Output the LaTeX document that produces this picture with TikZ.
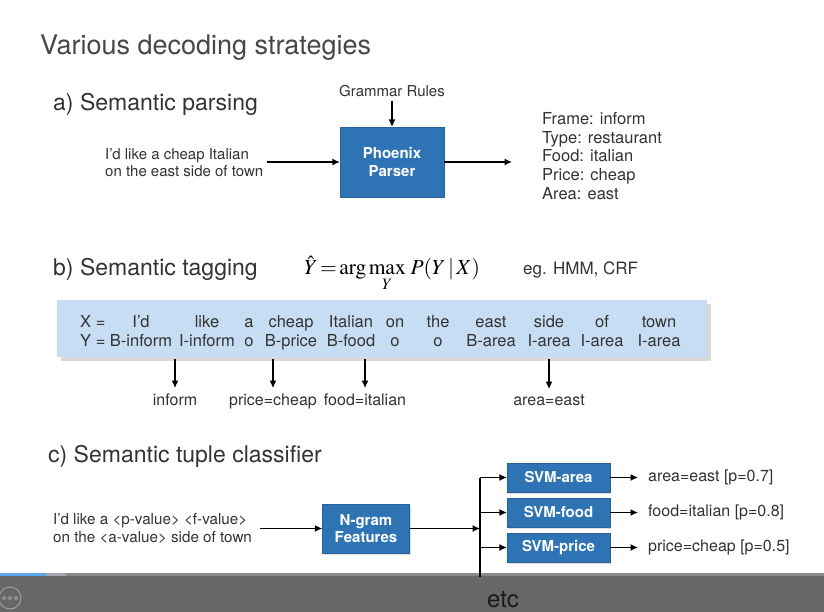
\documentclass[tikz,border=0pt]{standalone}
\usepackage{mathptmx}
\usepackage[no-math]{fontspec}
\setmainfont{TeX Gyre Heros}
\usetikzlibrary{arrows.meta,shadows}
\definecolor{boxblue}{HTML}{2E74B5}
\definecolor{bandblue}{HTML}{C7DDF3}
\definecolor{txt}{HTML}{333333}
\definecolor{barcol}{HTML}{676767}
\definecolor{progblue}{HTML}{5AA6EC}
\definecolor{proggray}{HTML}{A4A7B2}
\definecolor{trackgray}{HTML}{8A8A8A}
\begin{document}
\begin{tikzpicture}[x=1pt,y=-1pt,
  every node/.style={inner sep=0pt, text=txt},
  >={Latex[length=7.5pt,width=7pt]},
  conn/.style={draw=black, line width=1.3pt, ->},
  plainline/.style={draw=black, line width=1.3pt},
  bluebox/.style={fill=boxblue, text=white, font=\fontsize{15}{17.5}\selectfont\bfseries,
    align=center, draw=boxblue!85!black, line width=0.3pt,
    drop shadow={opacity=0.25, shadow xshift=1pt, shadow yshift=-1.5pt}},
  heading/.style={font=\fontsize{23}{28}\selectfont, anchor=base west},
  small/.style={font=\fontsize{15}{17}\selectfont},
  lab/.style={font=\fontsize{16}{19}\selectfont},
  bw/.style={font=\fontsize{16.5}{20}\selectfont, anchor=base}
]
\useasboundingbox (0,0) rectangle (824,612);
\fill[white] (0,0) rectangle (824,612);

% player bar
\fill[barcol] (0,573) rectangle (824,612);
\fill[trackgray] (0,573) rectangle (824,576);
\fill[progblue] (0,573) rectangle (46,576);
\fill[proggray] (46,573) rectangle (66,576);
\draw[gray!75!white, line width=1pt] (10,598) circle (11);
\foreach \dx in {4,10,16} \draw[gray!75!white, line width=0.8pt] (\dx,598) circle (1.7);

% title
\node[anchor=base west, font=\fontsize{27}{31}\selectfont, text=black!72] (title) at (40,55) {Various decoding strategies};

% a) semantic parsing
\node[heading] (ha) at (53,111) {a) Semantic parsing};
\node[small, anchor=base] (gr) at (392,96.5) {Grammar Rules};
\node[bluebox, minimum width=104pt, minimum height=70pt] (px) at (392,162) {Phoenix\\Parser};
\node[small, align=left, anchor=north west] (ina) at (105,148) {I’d like a cheap Italian\\on the east side of town};
\node[font=\fontsize{16.5}{18.8}\selectfont, align=left, anchor=north west] (frame) at (542,112)
  {Frame: inform\\Type: restaurant\\Food: italian\\Price: cheap\\Area: east};
\coordinate (pxout) at (512,162);
\draw[conn, shorten <=4pt] (gr.south) -- (px.north);
\draw[conn, shorten <=4pt] (ina.east |- px.west) -- (px.west);
\draw[conn] (px.east) -- (pxout);

% b) semantic tagging
\node[heading] (hb) at (53,276) {b) Semantic tagging};
\node[anchor=base west, font=\fontsize{21.5}{25}\selectfont, text=black] (formula) at (304,275)
  {$\displaystyle\hat{Y}\!=\!\arg\max_{Y}\,P(Y\,|\,X)$};
\node[anchor=base west, font=\fontsize{17}{20}\selectfont] (eg) at (523,275) {eg. HMM, CRF};

\node[fill=bandblue, minimum width=650pt, minimum height=57pt,
  drop shadow={opacity=0.3, shadow xshift=4pt, shadow yshift=-4pt}] (band) at (382,328.5) {};
\node[bw, anchor=base west] (xeq) at (80,327) {X =};
\node[bw, anchor=base west] (yeq) at (80,346) {Y =};
\foreach \cx/\xw/\yw [count=\i] in {141/I’d/B-inform, 207/like/I-inform, 249/a/o, 291/cheap/B-price,
   351/Italian/B-food, 395/on/o, 438/the/o, 491/east/B-area, 549/side/I-area, 602/of/I-area, 659/town/I-area}{
  \node[bw] (x\i) at (\cx,327) {\xw};
  \node[bw] (y\i) at (\cx,346) {\yw};
}
\node[lab, anchor=base] (l1) at (175,405) {inform};
\node[lab, anchor=base] (l2) at (273,405) {price=cheap};
\node[lab, anchor=base] (l3) at (365,405) {food=italian};
\node[lab, anchor=base] (l4) at (549,405) {area=east};
\foreach \l in {l1,l2,l3,l4}
  \draw[conn, shorten <=2pt, shorten >=5pt] (\l.north |- band.south) -- (\l.north);

% c) semantic tuple classifier
\node[heading] (hc) at (48,462) {c) Semantic tuple classifier};
\node[font=\fontsize{15.2}{17.7}\selectfont, align=left, anchor=north west] (inc) at (53,513)
  {I’d like a <p-value> <f-value>\\on the <a-value> side of town};
\node[bluebox, minimum width=87pt, minimum height=49pt] (ng) at (366,528.5) {N-gram\\Features};
\node[bluebox, minimum width=103pt, minimum height=29pt] (sa) at (558.5,477.5) {SVM-area};
\node[bluebox, minimum width=103pt, minimum height=29pt] (sf) at (558.5,512.5) {SVM-food};
\node[bluebox, minimum width=103pt, minimum height=29pt] (sp) at (558.5,547.5) {SVM-price};
\node[lab, anchor=west] (oa) at (648,477.5) {area=east [p=0.7]};
\node[lab, anchor=west] (of) at (648,512.5) {food=italian [p=0.8]};
\node[lab, anchor=west] (op) at (648,547.5) {price=cheap [p=0.5]};
\coordinate (jt) at (480,477.5);
\coordinate (jb) at (480,577);
\draw[conn, shorten <=8pt] (inc.east |- ng.west) -- (ng.west);
\draw[plainline] (jt) -- (jb);
\draw[conn] (ng.east) -- (ng.east -| jt);
\draw[conn] (jt) -- (sa.west);
\draw[conn] (jt |- sf.west) -- (sf.west);
\draw[conn] (jt |- sp.west) -- (sp.west);
\draw[conn, shorten >=10pt] (sa.east) -- (oa.west);
\draw[conn, shorten >=10pt] (sf.east) -- (of.west);
\draw[conn, shorten >=10pt] (sp.east) -- (op.west);

\node[anchor=base west, font=\fontsize{24}{28}\selectfont, text=black!90] (etc) at (487,607) {etc};
\end{tikzpicture}
\end{document}
